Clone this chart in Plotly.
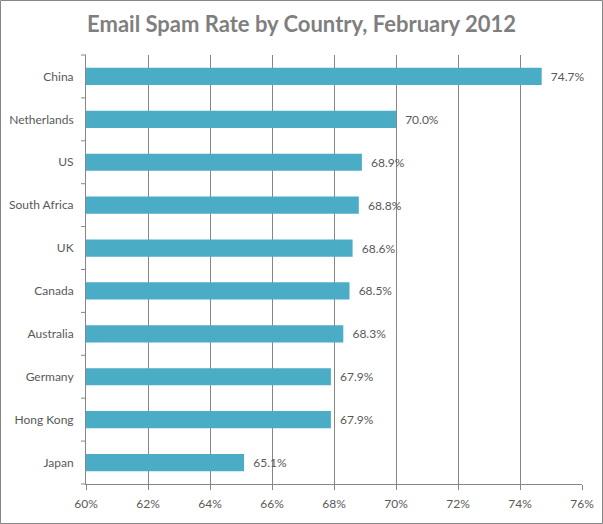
import plotly.graph_objects as go

countries = ["China", "Netherlands", "US", "South Africa", "UK",
             "Canada", "Australia", "Germany", "Hong Kong", "Japan"]
spam_rate = [74.7, 70.0, 68.9, 68.8, 68.6, 68.5, 68.3, 67.9, 67.9, 65.1]
x_ticks = [60, 62, 64, 66, 68, 70, 72, 74, 76]
x_tick_labels = [f"{t}%" for t in x_ticks]

W, H = 603, 524
L, R, T, B = 86, 21, 55, 40
pw, ph = W - L - R, H - T - B

fig = go.Figure(go.Bar(
    y=countries, x=spam_rate, orientation="h",
    marker=dict(color="#4BACC6", line=dict(width=0)),
    text=[f"\u00a0\u00a0{v:.1f}%" for v in spam_rate],
    textposition="outside",
    textfont=dict(size=12, color="#595959"),
    cliponaxis=False,
    hoverinfo="skip",
))

fig.update_layout(
    width=W, height=H,
    margin=dict(l=L, r=R, t=T, b=B, autoexpand=False),
    paper_bgcolor="white", plot_bgcolor="white",
    font=dict(family="Lato, Open Sans, sans-serif", size=12, color="#595959"),
    bargap=0.6,
    showlegend=False,
    title=dict(text="<b>Email Spam Rate by Country, February 2012</b>",
               x=0.5, xanchor="center", y=1 - 24 / H, yanchor="middle",
               font=dict(size=22, color="#7F7F7F")),
    xaxis=dict(range=[60, 76], tickvals=x_ticks, ticktext=x_tick_labels,
               showgrid=True, gridcolor="#868686", gridwidth=1,
               showline=True, linecolor="#868686", linewidth=1,
               ticks="outside", ticklen=5, tickcolor="#868686",
               ticklabelstandoff=4,
               zeroline=False, automargin=False,
               tickfont=dict(size=12, color="#595959")),
    yaxis=dict(autorange="reversed", showgrid=False,
               showline=True, linecolor="#868686", linewidth=1,
               ticks="", ticklabelstandoff=9, automargin=False,
               tickfont=dict(size=12, color="#595959")),
    shapes=[dict(type="rect", xref="paper", yref="paper",
                 x0=(0.5 - L) / pw, x1=(W - 0.5 - L) / pw,
                 y0=(0.5 - B) / ph, y1=(H - 0.5 - B) / ph,
                 line=dict(color="#868686", width=1), layer="above")],
)

# small tick marks between categories on the y axis
for i in range(len(countries) + 1):
    yy = 1 - i / len(countries)
    fig.add_shape(type="line", xref="paper", yref="paper",
                  x0=-5 / pw, x1=0, y0=yy, y1=yy,
                  line=dict(color="#868686", width=1))

fig.write_html("out.html", config={"displayModeBar": False},
               post_script="document.body.style.margin='0';document.body.style.overflow='hidden';")
